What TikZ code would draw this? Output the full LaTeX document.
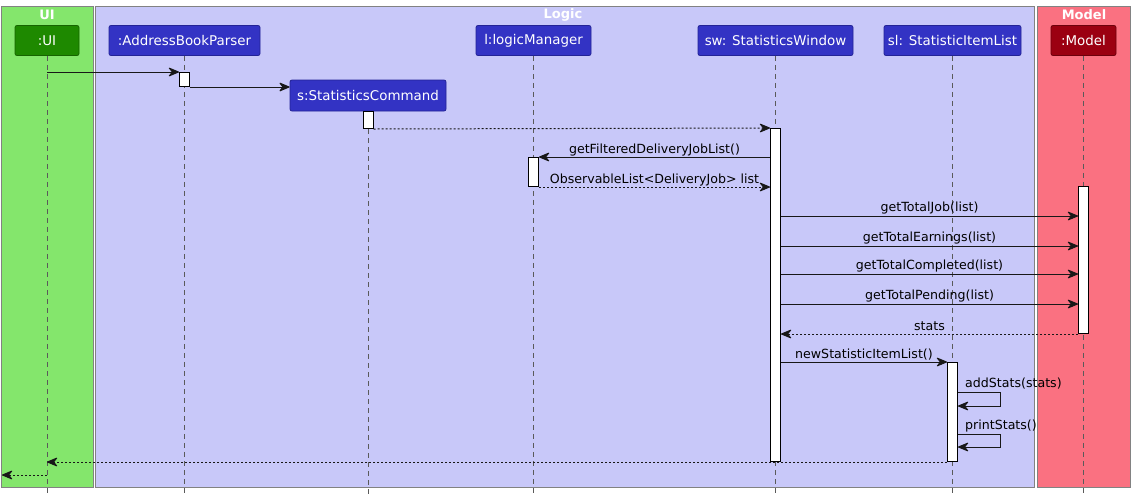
\documentclass[tikz,border=0pt]{standalone}
\usepackage{fontspec}
\setmainfont{DejaVu Sans}
\usetikzlibrary{arrows.meta}
\definecolor{uigrp}{RGB}{132,230,108}
\definecolor{lggrp}{RGB}{200,200,249}
\definecolor{mdgrp}{RGB}{250,113,129}
\definecolor{grpline}{RGB}{130,130,130}
\definecolor{uihead}{RGB}{30,137,0}
\definecolor{uiheadb}{RGB}{22,100,0}
\definecolor{lghead}{RGB}{51,51,196}
\definecolor{lgheadb}{RGB}{35,35,150}
\definecolor{mdhead}{RGB}{155,0,17}
\definecolor{mdheadb}{RGB}{110,0,12}
\definecolor{lifec}{RGB}{90,90,90}
\definecolor{arrowc}{RGB}{24,24,24}
\begin{document}
\begin{tikzpicture}[x=1pt,y=-1pt,
  grp/.style={draw=grpline, line width=1pt, inner sep=0, anchor=north west},
  gtitle/.style={text=white, font=\bfseries\fontsize{13}{15}\selectfont, inner sep=0},
  head/.style={rounded corners=2pt, text=white, font=\fontsize{13.4}{16}\selectfont, minimum height=30, inner sep=0, line width=0.8pt},
  uih/.style={head, fill=uihead, draw=uiheadb},
  lgh/.style={head, fill=lghead, draw=lgheadb},
  mdh/.style={head, fill=mdhead, draw=mdheadb},
  life/.style={draw=lifec, line width=0.9pt, dash pattern=on 5pt off 4pt},
  act/.style={draw=black, fill=white, line width=1pt, minimum width=10, inner sep=0, anchor=north},
  msg/.style={draw=arrowc, line width=1pt, -{Stealth[length=12pt,width=10pt,inset=4pt,round]}},
  ret/.style={msg, dash pattern=on 2pt off 2pt},
  lbl/.style={font=\fontsize{12.6}{14}\selectfont, inner sep=0, anchor=base, text=black},
  lbll/.style={lbl, anchor=base west}
]
\path[use as bounding box, fill=white] (0,0) rectangle (1134,499);

% groups
\node[grp, fill=uigrp, minimum width=92, minimum height=481] (gUI) at (1,6) {};
\node[grp, fill=lggrp, minimum width=939, minimum height=481] (gLG) at (95,6) {};
\node[grp, fill=mdgrp, minimum width=93, minimum height=481] (gMD) at (1037,6) {};
\node[gtitle] (tUI) at (47,14.5) {UI};
\node[gtitle] (tLG) at (563,14.5) {Logic};
\node[gtitle] (tMD) at (1084,14.5) {Model};

% participants
\node[uih, minimum width=64] (ui) at (47,40.5) {:UI};
\node[lgh, minimum width=151] (abp) at (184.5,40.5) {:AddressBookParser};
\node[lgh, minimum width=156, minimum height=31] (sc) at (368,95.5) {s:StatisticsCommand};
\node[lgh, minimum width=115] (lm) at (533.5,40.5) {l:logicManager};
\node[lgh, minimum width=155] (sw) at (775.5,40.5) {sw: StatisticsWindow};
\node[lgh, minimum width=137] (sl) at (952.5,40.5) {sl: StatisticItemList};
\node[mdh, minimum width=65] (md) at (1083.5,40.5) {:Model};

% lifelines
\coordinate (bot) at (0,494);
\draw[life] (ui.south) -- (ui.south |- bot);
\draw[life] (abp.south) -- (abp.south |- bot);
\draw[life] (sc.south) -- (sc.south |- bot);
\draw[life] (lm.south) -- (lm.south |- bot);
\draw[life] (sw.south) -- (sw.south |- bot);
\draw[life] (sl.south) -- (sl.south |- bot);
\draw[life] (md.south) -- (md.south |- bot);

% activations
\node[act, minimum height=14] (abpA) at (184.5,72) {};
\node[act, minimum height=17] (scA) at (368,111) {};
\node[act, minimum height=333] (swA) at (775.5,128) {};
\node[act, minimum height=29] (lmA) at (533.5,157) {};
\node[act, minimum height=147] (mdA) at (1083.5,186) {};
\node[act, minimum height=99] (slA) at (952.5,362) {};

% message levels
\coordinate (y1) at (0,72);
\coordinate (y6) at (0,216);
\coordinate (y7) at (0,246);
\coordinate (y8) at (0,274);
\coordinate (y9) at (0,304);
\coordinate (y12a) at (0,392);
\coordinate (y12b) at (0,406);
\coordinate (y13a) at (0,434);
\coordinate (y13b) at (0,447);
\coordinate (y15) at (0,475);
\coordinate (outL) at (2,475);

% messages
\draw[msg] (ui |- y1) -- (abpA.north west);
\draw[msg] (abpA.south east) -- (abpA.south east -| sc.west);
\draw[ret] (scA.south east) -- (swA.north west);
\draw[msg] (lmA.north east -| swA.west) -- node[lbl, above=4pt, anchor=base]{getFilteredDeliveryJobList()} (lmA.north east);
\draw[ret] (lmA.south east) -- node[lbl, above=4pt, anchor=base]{ObservableList<DeliveryJob> list} (lmA.south east -| swA.west);
\draw[msg] (swA.east |- y6) -- node[lbl, above=5pt, anchor=base]{getTotalJob(list)} (mdA.west |- y6);
\draw[msg] (swA.east |- y7) -- node[lbl, above=5pt, anchor=base]{getTotalEarnings(list)} (mdA.west |- y7);
\draw[msg] (swA.east |- y8) -- node[lbl, above=5pt, anchor=base]{getTotalCompleted(list)} (mdA.west |- y8);
\draw[msg] (swA.east |- y9) -- node[lbl, above=5pt, anchor=base]{getTotalPending(list)} (mdA.west |- y9);
\draw[ret] (mdA.south west) -- node[lbl, above=4pt, anchor=base]{stats} (mdA.south west -| swA.east);
\draw[msg] (slA.north west -| swA.east) -- node[lbl, above=4pt, anchor=base]{newStatisticItemList()} (slA.north west);
\draw[msg] (slA.east |- y12a) -- ++(42,0) |- (slA.east |- y12b);
\node[lbll] (l12) at ([xshift=7pt]slA.east |- 0,387) {addStats(stats)};
\draw[msg] (slA.east |- y13a) -- ++(42,0) |- (slA.east |- y13b);
\node[lbll] (l13) at ([xshift=7pt]slA.east |- 0,429.5) {printStats()};
\draw[ret] (slA.south west) -- (slA.south west -| ui);
\draw[ret] (ui |- y15) -- (outL);
\end{tikzpicture}
\end{document}
